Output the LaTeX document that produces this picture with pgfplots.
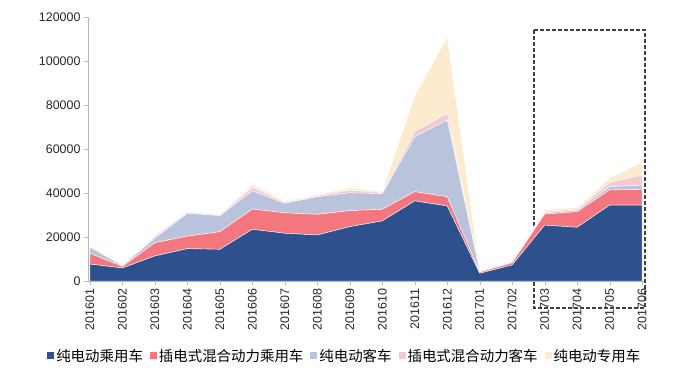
\documentclass[border=0pt]{standalone}
\usepackage{pgfplots}
\pgfplotsset{compat=1.18}
\usepackage{pgfplotstable}
\usepackage{fontspec}
\setmainfont{Liberation Sans}
\newfontfamily\cjk{Noto Sans CJK SC}
\definecolor{cB}{HTML}{2E508C}
\definecolor{cR}{HTML}{F4777F}
\definecolor{cG}{HTML}{BAC3DC}
\definecolor{cP}{HTML}{F6C8D0}
\definecolor{cC}{HTML}{FDEBCF}
\pgfplotstableread{
x b r g p c
0 7700 4900 2800 400 400
1 5900 700 400 200 200
2 11400 6000 2100 800 700
3 14700 5700 10400 500 300
4 14400 8000 7300 400 400
5 23500 9200 8300 1500 1300
6 21700 9300 4300 500 500
7 20900 9400 8000 500 500
8 24700 7300 8100 1100 1000
9 27300 5300 7100 500 500
10 36400 4200 25000 2300 16100
11 34100 4200 34900 3000 34800
12 3500 600 300 200 200
13 7300 1000 400 300 300
14 25400 5000 600 500 800
15 24400 7100 700 600 700
16 34500 6900 1500 1800 2000
17 34500 7100 2000 4600 5800
}\data
\begin{document}
\begin{tikzpicture}
\useasboundingbox (-88bp,-107bp) rectangle (595bp,281bp);
\begin{axis}[
  at={(0,0)}, anchor=south west,
  scale only axis, width=557bp, height=264bp,
  xmin=-0.06, xmax=17.09, ymin=0, ymax=120000,
  stack plots=y,
  axis x line=bottom, axis y line=left,
  axis line style={draw=gray!55, -},
  tick align=outside,
  major tick length=4bp,
  tick style={draw=gray!55},
  xtick={0,...,17},
  xticklabels={201601,201602,201603,201604,201605,201606,201607,201608,201609,201610,201611,201612,201701,201702,201703,201704,201705,201706},
  xticklabel style={rotate=90, anchor=east, font=\fontsize{12.5}{14}\selectfont, text=black!85},
  ytick={0,20000,40000,60000,80000,100000,120000},
  yticklabels={0,20000,40000,60000,80000,100000,120000},
  yticklabel style={font=\fontsize{12.5}{14}\selectfont, text=black!85},
  scaled y ticks=false,
  clip=false,
  legend style={at={(0.461,-0.284)}, anchor=center, draw=none, fill=none,
    legend columns=5, font=\cjk\fontsize{14.5}{16}\selectfont,
    /tikz/every even column/.append style={column sep=5bp},
    /tikz/every odd column/.append style={column sep=0bp}},
  legend image code/.code={\fill[#1,draw=none] (0bp,-3.5bp) rectangle (7bp,3.5bp);},
]
\addplot[fill=cB, draw=white, line width=0.4pt] table[x=x,y=b]{\data} \closedcycle;
\addlegendentry{纯电动乘用车}
\addplot[fill=cR, draw=white, line width=0.4pt] table[x=x,y=r]{\data} \closedcycle;
\addlegendentry{插电式混合动力乘用车}
\addplot[fill=cG, draw=white, line width=0.4pt] table[x=x,y=g]{\data} \closedcycle;
\addlegendentry{纯电动客车}
\addplot[fill=cP, draw=white, line width=0.4pt] table[x=x,y=p]{\data} \closedcycle;
\addlegendentry{插电式混合动力客车}
\addplot[fill=cC, draw=white, line width=0.4pt] table[x=x,y=c]{\data} \closedcycle;
\addlegendentry{纯电动专用车}
\draw[dash pattern=on 4bp off 2bp, line width=1.2bp, black!75] (axis cs:13.67,114100) rectangle (axis cs:17.09,-12300);
\end{axis}
\end{tikzpicture}
\end{document}
